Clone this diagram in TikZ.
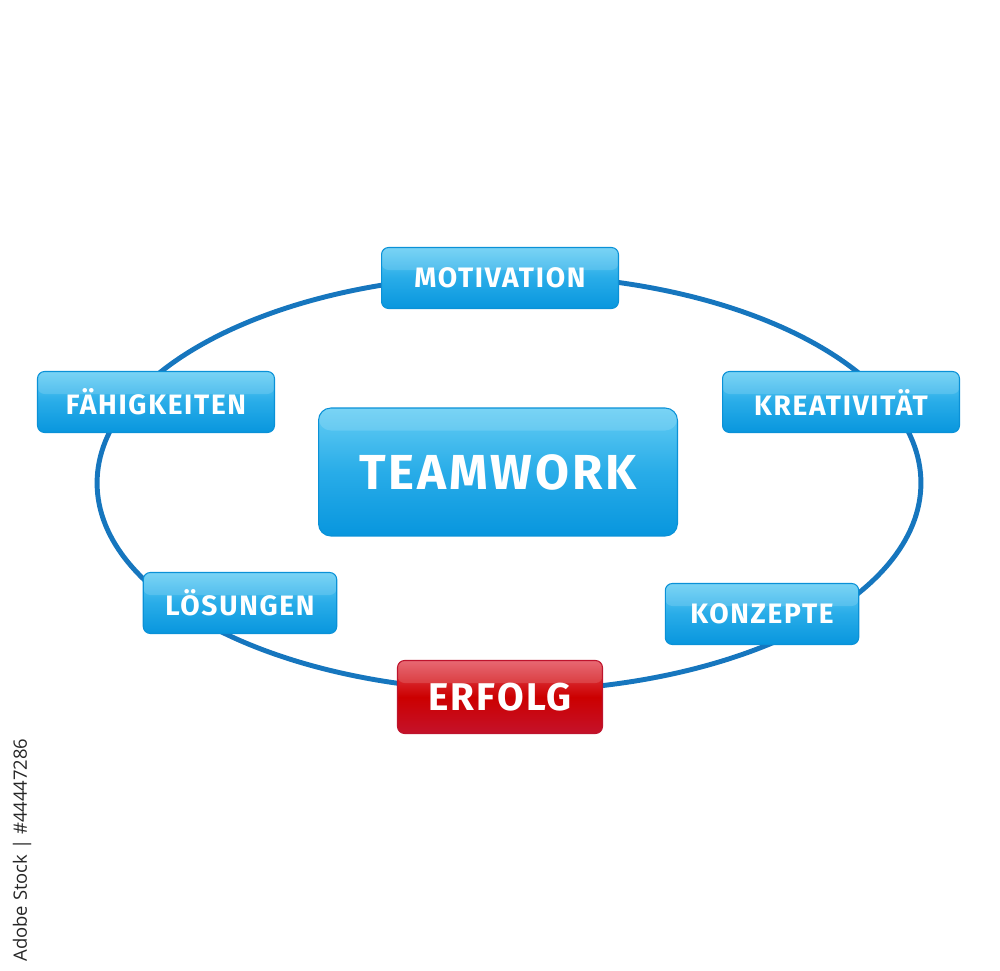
\documentclass[tikz,border=0pt]{standalone}
\usepackage{fontspec}
\setmainfont{Fira Sans}
\newfontfamily\boxfont{Fira Sans}[LetterSpace=6]
\newfontfamily\stockfont{Open Sans}
\usetikzlibrary{positioning}

\definecolor{ringblue}{RGB}{22,118,190}
\definecolor{boxtop}{RGB}{100,205,244}
\definecolor{boxmid}{RGB}{40,172,232}
\definecolor{boxbot}{RGB}{8,150,222}
\definecolor{boxedge}{RGB}{10,145,215}
\definecolor{redtop}{RGB}{228,80,92}
\definecolor{redbot}{RGB}{196,18,42}
\definecolor{rededge}{RGB}{190,20,45}

\begin{document}
\begin{tikzpicture}[
    x=0.02cm, y=-0.02cm,
    gloss/.style={path picture={
        \fill[white, opacity=0.14] (path picture bounding box.north west) rectangle ([yshift=-0.45cm]path picture bounding box.north east);}},
    tag/.style={rectangle, rounded corners=4pt, draw=boxedge, line width=0.6pt, top color=boxtop, bottom color=boxbot, middle color=boxmid, text=white, font=\boxfont\bfseries\fontsize{16}{18}\selectfont, minimum width=4.74cm, minimum height=1.22cm, inner sep=0pt, gloss},
    smalltag/.style={tag, minimum width=3.87cm},
    hub/.style={tag, rounded corners=7pt, minimum width=7.18cm, minimum height=2.56cm, font=\boxfont\bfseries\fontsize{28}{32}\selectfont},
    goal/.style={tag, draw=rededge, top color=redtop, bottom color=redbot, middle color=red!80!black, minimum width=4.1cm, minimum height=1.46cm, font=\boxfont\bfseries\fontsize{22}{26}\selectfont},
    ring/.style={draw=ringblue, line width=2.8pt}
]
\useasboundingbox (0,0) rectangle (1000,970);

% Ring
\draw[ring] (509,483) ellipse [x radius=8.24cm, y radius=4.16cm];

% Centre
\node[hub] (teamwork) at (498,472) {TEAMWORK};

% Boxes on the ring
\node[tag] (motivation) at (500,278) {MOTIVATION};
\node[tag] (faehig) at (156,402) {FÄHIGKEITEN};
\node[tag] (kreativ) at (841,402) {KREATIVITÄT};
\node[smalltag] (loesung) at (240,603) {LÖSUNGEN};
\node[smalltag] (konzept) at (762,614) {KONZEPTE};
\node[goal] (erfolg) at (500,697) {ERFOLG};

% Stock id
\node[rotate=90, text=black!85, font=\stockfont\fontsize{10.5}{12}\selectfont] (stockid) at (22,850) {Adobe Stock | \#44447286};

\end{tikzpicture}
\end{document}
